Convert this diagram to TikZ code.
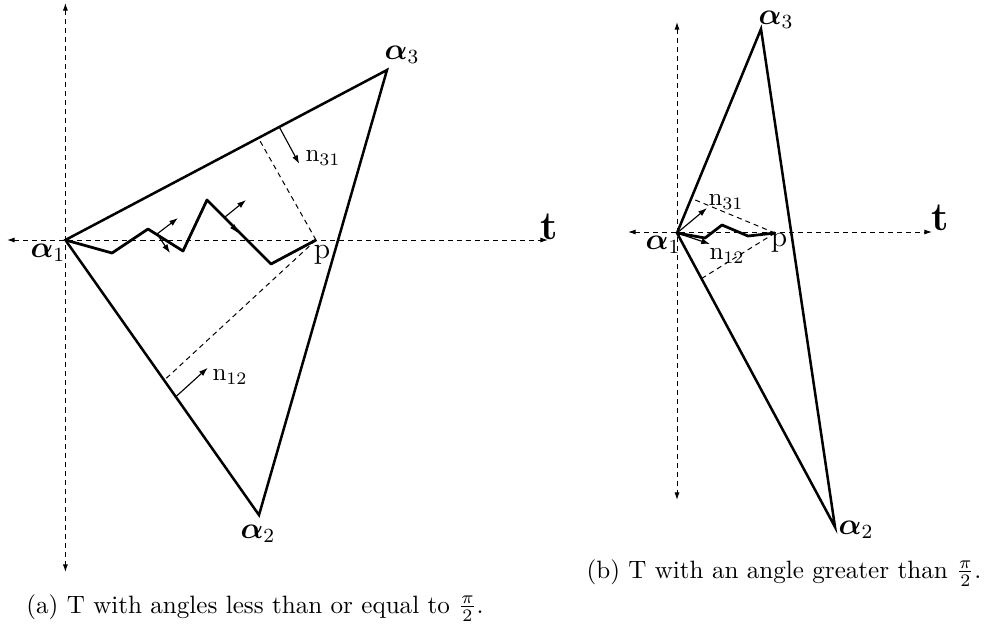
\documentclass[tikz,border=0pt]{standalone}
\usepackage{amsmath}
\usetikzlibrary{arrows.meta,calc}
\newcommand{\vtx}[1]{$\boldsymbol{\alpha}_{#1}$}

\begin{document}
\begin{tikzpicture}[x=0.014cm,y=-0.014cm,
    edge/.style={line width=1pt},
    walk/.style={line width=1.1pt,line join=round},
    axisline/.style={line width=0.4pt,dash pattern=on 2pt off 1.6pt,
      {Latex[length=3pt,width=2pt]}-{Latex[length=3pt,width=2pt]}},
    dashline/.style={line width=0.4pt,dash pattern=on 2pt off 1.6pt},
    nvec/.style={line width=0.45pt,-{Latex[length=3.5pt,width=2.4pt]}},
    vlabel/.style={font=\fontsize{12}{14}\selectfont},
    plabel/.style={font=\fontsize{12}{14}\selectfont},
    nlabel/.style={font=\fontsize{10}{12}\selectfont,anchor=west,inner sep=0pt},
    tlabel/.style={font=\bfseries\fontsize{16}{18}\selectfont}]
        \useasboundingbox (0,0) rectangle (994,639);

        % panel (a)
        \coordinate (a1) at (65.4,240);
        \coordinate (a2) at (259,515);
        \coordinate (a3) at (387,70);
        \coordinate (p) at (316,240);

        \draw[axisline] (65.4,3) -- (65.4,572);
        \draw[axisline] (7,240) -- (548,240);
        \node[tlabel] (ta) at (549,227) {t};

        \draw[edge] (a1) -- (a2) -- (a3) -- cycle;

        \draw[dashline] (p) -- ($(a1)!0.6!(a3)$);
        \draw[dashline] (p) -- ($(a1)!0.51!(a2)$);

        \draw[walk] (a1) -- (112,253) -- (148,229) -- (183,251)
          -- (207,200) -- (271,264) -- (p);

        \foreach \sx/\sy/\ex/\ey in {157/234/178/218,157/234/170/253,
          225/217/246/200,225/217/238/233}{
          \draw[nvec] (\sx,\sy) -- (\ex,\ey);
        }

        \coordinate (m31) at ($(a1)!0.665!(a3)$);
        \coordinate (m12) at ($(a1)!0.57!(a2)$);
        \draw[nvec] (m31) -- ++(20,37) coordinate (e31);
        \draw[nvec] (m12) -- ++(32,-29) coordinate (e12);
        \node[nlabel] (n31a) at (305,158) {n\textsubscript{31}};
        \node[nlabel] (n12a) at (212,377) {n\textsubscript{12}};

        \node[vlabel] (la1) at (48,253) {\vtx{1}};
        \node[vlabel] (la2) at (258,534) {\vtx{2}};
        \node[vlabel] (la3) at (402,55) {\vtx{3}};
        \node[plabel] (lp) at (322,255) {p};

        \node (capa) at (255,608) {(a) T with angles less than or equal to $\frac{\pi}{2}$.};

        % panel (b)
        \coordinate (b1) at (677,233);
        \coordinate (b2) at (835,527);
        \coordinate (b3) at (761,29);
        \coordinate (q) at (775,233);

        \draw[axisline] (677,22) -- (677,500);
        \draw[axisline] (628,232) -- (932,232);
        \node[tlabel] (tb) at (940,218) {t};

        \draw[edge] (b1) -- (b2) -- (b3) -- cycle;

        \draw[dashline] (q) -- ($(b1)!0.17!(b3)$);
        \draw[dashline] (q) -- ($(b1)!0.155!(b2)$);

        \draw[walk] (b1) -- (705,238) -- (722,225) -- (748,236) -- (q);

        \draw[nvec] (b1) -- (707,208);
        \draw[nvec] (b1) -- (710,244);
        \node[nlabel] (n31b) at (708,202) {n\textsubscript{31}};
        \node[nlabel] (n12b) at (709,256) {n\textsubscript{12}};

        \node[vlabel] (lb1) at (663,245) {\vtx{1}};
        \node[vlabel] (lb2) at (856,530) {\vtx{2}};
        \node[vlabel] (lb3) at (776,20) {\vtx{3}};
        \node[plabel] (lq) at (779,243) {p};

        \node (capb) at (784,573) {(b) T with an angle greater than $\frac{\pi}{2}$.};
      \end{tikzpicture}
\end{document}
